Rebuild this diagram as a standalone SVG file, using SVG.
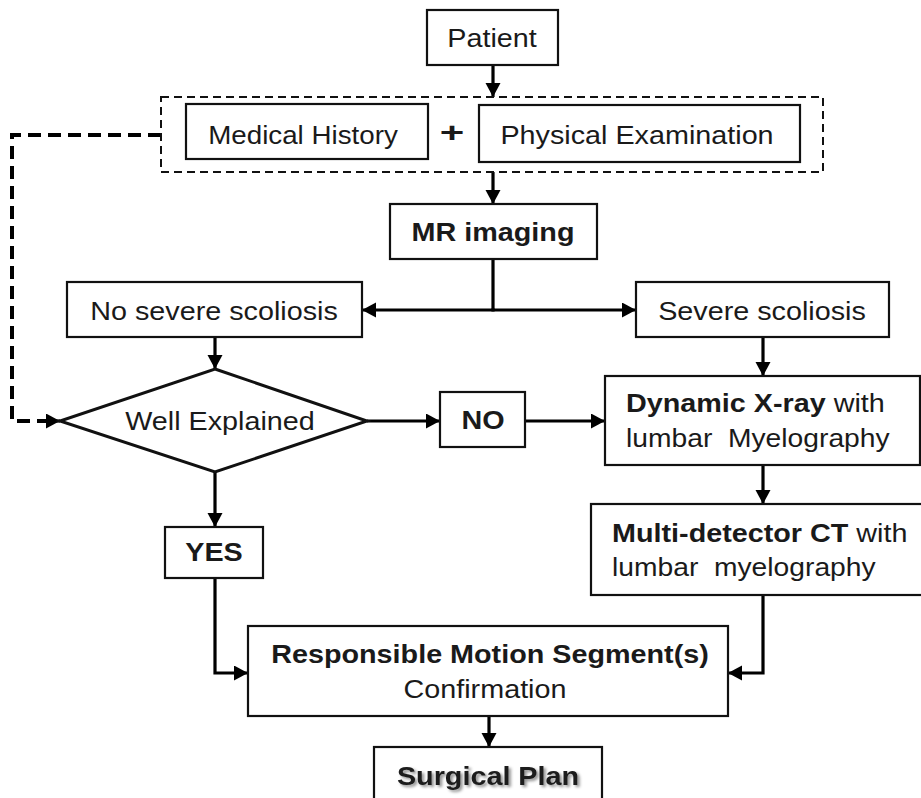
<svg xmlns="http://www.w3.org/2000/svg" width="921" height="798" viewBox="0 0 921 798">
<defs>
<style>
.box{fill:#fff;stroke:#111;stroke-width:2.2}
.t{font-family:"Liberation Sans",Arial,sans-serif;font-size:25px;fill:#1a1a1a;white-space:pre}
.b{font-weight:bold}
.m{text-anchor:middle}
.c{fill:none;stroke:#000;stroke-width:3.2}
.d{fill:none;stroke:#000;stroke-width:4;stroke-dasharray:13 7}
</style>
<marker id="ah" markerUnits="userSpaceOnUse" markerWidth="16" markerHeight="16" refX="14" refY="7.5" orient="auto">
<path d="M0,0 L14,7.5 L0,15 Z" fill="#000"/>
</marker>
<filter id="sh" x="-10%" y="-30%" width="130%" height="160%">
<feDropShadow dx="2" dy="2" stdDeviation="1.5" flood-color="#000" flood-opacity="0.45"/>
</filter>
</defs>

<g id="connectors">
<line class="c" x1="493" y1="65" x2="493" y2="97" marker-end="url(#ah)"/>
<line class="c" x1="493" y1="172" x2="493" y2="204" marker-end="url(#ah)"/>
<line class="c" x1="493" y1="259" x2="493" y2="311"/>
<line class="c" x1="494.6" y1="310" x2="362" y2="310" marker-end="url(#ah)"/>
<line class="c" x1="491.4" y1="310" x2="636" y2="310" marker-end="url(#ah)"/>
<line class="c" x1="215" y1="337" x2="215" y2="369" marker-end="url(#ah)"/>
<line class="c" x1="367" y1="421" x2="440" y2="421" marker-end="url(#ah)"/>
<line class="c" x1="525" y1="421" x2="605" y2="421" marker-end="url(#ah)"/>
<line class="c" x1="763" y1="337" x2="763" y2="376" marker-end="url(#ah)"/>
<line class="c" x1="763" y1="465" x2="763" y2="504" marker-end="url(#ah)"/>
<polyline class="c" points="763,595 763,673 728,673" marker-end="url(#ah)"/>
<line class="c" x1="215" y1="472" x2="215" y2="527" marker-end="url(#ah)"/>
<polyline class="c" points="215,578 215,673 248,673" marker-end="url(#ah)"/>
<line class="c" x1="489" y1="716" x2="489" y2="747" marker-end="url(#ah)"/>
<polyline class="d" points="161,135 12,135 12,421 48,421"/>
<line class="c" x1="44" y1="421" x2="60" y2="421" marker-end="url(#ah)"/>
</g>

<g id="patient">
<rect class="box" x="427" y="10" width="131" height="55"/>
<text class="t m" transform="translate(492,47) scale(1.15,1)">Patient</text>
</g>

<g id="history-exam">
<rect x="161" y="97" width="662" height="75" fill="none" stroke="#111" stroke-width="2" stroke-dasharray="8 5"/>
</g>

<g id="medical-history">
<rect class="box" x="186" y="104" width="242" height="55"/>
<text class="t m" transform="translate(303,144) scale(1.11,1)">Medical History</text>
</g>

<g id="plus">
<text class="t b m" style="font-size:28px" transform="translate(452,142) scale(1.5,1)">+</text>
</g>

<g id="physical-exam">
<rect class="box" x="479" y="105" width="321" height="57"/>
<text class="t m" transform="translate(637,144) scale(1.15,1)">Physical Examination</text>
</g>

<g id="mr-imaging">
<rect class="box" x="390" y="204" width="207" height="55"/>
<text class="t b m" transform="translate(493,241) scale(1.15,1)">MR imaging</text>
</g>

<g id="no-severe">
<rect class="box" x="67" y="282" width="295" height="55"/>
<text class="t m" transform="translate(214,320) scale(1.15,1)">No severe scoliosis</text>
</g>

<g id="severe">
<rect class="box" x="636" y="282" width="253" height="55"/>
<text class="t m" transform="translate(762,320) scale(1.15,1)">Severe scoliosis</text>
</g>

<g id="well-explained">
<polygon class="box" style="stroke-width:3" points="215,369 367,421 215,472 60,421"/>
<text class="t m" transform="translate(220,430) scale(1.15,1)">Well Explained</text>
</g>

<g id="no">
<rect class="box" x="440" y="392" width="85" height="55"/>
<text class="t b m" transform="translate(483,429) scale(1.15,1)">NO</text>
</g>

<g id="yes">
<rect class="box" x="165" y="527" width="98" height="51"/>
<text class="t b m" transform="translate(214,561) scale(1.15,1)">YES</text>
</g>

<g id="dynamic-xray">
<rect class="box" x="605" y="376" width="315" height="89"/>
<text class="t" transform="translate(626,412) scale(1.15,1)"><tspan class="b">Dynamic X-ray</tspan> with</text>
<text class="t" transform="translate(626,447) scale(1.13,1)">lumbar  Myelography</text>
</g>

<g id="multi-detector">
<rect class="box" x="591" y="504" width="332" height="91"/>
<text class="t" transform="translate(612,542) scale(1.15,1)"><tspan class="b">Multi-detector CT</tspan> with</text>
<text class="t" transform="translate(612,576) scale(1.13,1)">lumbar  myelography</text>
</g>

<g id="responsible">
<rect class="box" x="248" y="626" width="480" height="90"/>
<text class="t b m" transform="translate(490,663) scale(1.15,1)">Responsible Motion Segment(s)</text>
<text class="t m" transform="translate(485,698) scale(1.15,1)">Confirmation</text>
</g>

<g id="surgical-plan">
<rect class="box" x="374" y="747" width="228" height="60"/>
<text class="t b m" filter="url(#sh)" transform="translate(488,785) scale(1.15,1)">Surgical Plan</text>
</g>
</svg>
